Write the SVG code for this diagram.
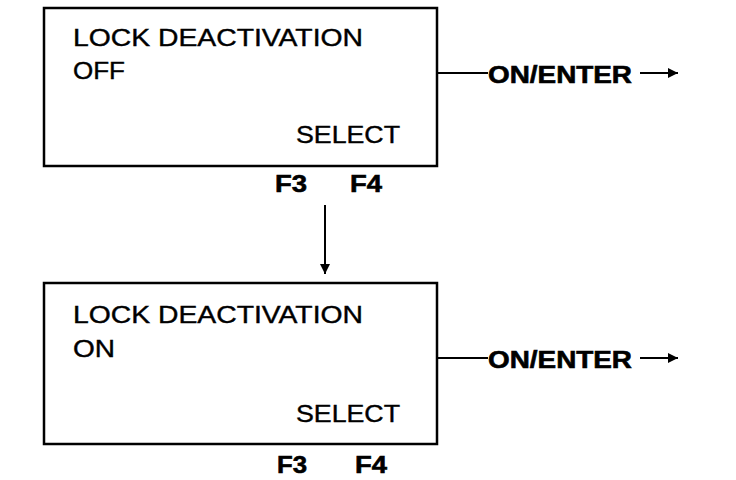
<svg xmlns="http://www.w3.org/2000/svg" width="736" height="480" viewBox="0 0 736 480">
<defs>
<style>
.box{fill:none;stroke:#000;stroke-width:2.5}
.t{font-family:"Liberation Sans",Arial,sans-serif;font-size:24px;fill:#000;stroke:#000;stroke-width:0.4}
.k{font-family:"Liberation Sans",Arial,sans-serif;font-size:24px;font-weight:bold;fill:#000;stroke:#000;stroke-width:0.6}
.ln{stroke:#000;stroke-width:2;fill:none}
</style>
<marker id="ah" viewBox="0 0 10 10" refX="10" refY="5" markerWidth="5" markerHeight="5" orient="auto" markerUnits="strokeWidth">
<path d="M0,0 L10,5 L0,10 z" fill="#000"/>
</marker>
</defs>
<rect width="736" height="480" fill="#fff"/>
<g id="node-off">
<rect class="box" x="44" y="8" width="393" height="158"/>
<text class="t" x="73" y="46" textLength="290" lengthAdjust="spacingAndGlyphs">LOCK DEACTIVATION</text>
<text class="t" x="73" y="79" textLength="52" lengthAdjust="spacingAndGlyphs">OFF</text>
<text class="t" x="296" y="143" textLength="104" lengthAdjust="spacingAndGlyphs">SELECT</text>
<text class="k" x="275" y="192" textLength="32" lengthAdjust="spacingAndGlyphs">F3</text>
<text class="k" x="350" y="192" textLength="32" lengthAdjust="spacingAndGlyphs">F4</text>
</g>
<g id="node-on">
<rect class="box" x="44" y="283" width="393" height="161"/>
<text class="t" x="73" y="323" textLength="290" lengthAdjust="spacingAndGlyphs">LOCK DEACTIVATION</text>
<text class="t" x="73" y="357" textLength="42" lengthAdjust="spacingAndGlyphs">ON</text>
<text class="t" x="296" y="422" textLength="104" lengthAdjust="spacingAndGlyphs">SELECT</text>
<text class="k" x="277" y="473" textLength="30" lengthAdjust="spacingAndGlyphs">F3</text>
<text class="k" x="355" y="473" textLength="32" lengthAdjust="spacingAndGlyphs">F4</text>
</g>
<g id="exit-1">
<text class="k" x="488" y="83" textLength="144" lengthAdjust="spacingAndGlyphs">ON/ENTER</text>
</g>
<g id="exit-2">
<text class="k" x="488" y="368" textLength="144" lengthAdjust="spacingAndGlyphs">ON/ENTER</text>
</g>
<g id="connectors">
<line class="ln" x1="437" y1="73" x2="488" y2="73"/>
<line class="ln" x1="640" y1="73" x2="678" y2="73" marker-end="url(#ah)"/>
<line class="ln" x1="437" y1="358" x2="488" y2="358"/>
<line class="ln" x1="640" y1="358" x2="678" y2="358" marker-end="url(#ah)"/>
<line class="ln" x1="325" y1="205" x2="325" y2="274" marker-end="url(#ah)"/>
</g>
</svg>
